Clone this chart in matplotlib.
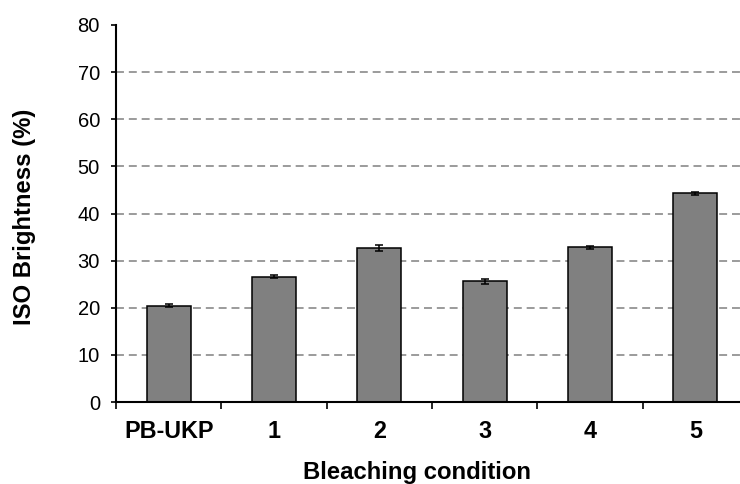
import matplotlib
matplotlib.use("Agg")
import matplotlib.pyplot as plt
import numpy as np

plt.rcParams['font.family'] = ['Liberation Sans', 'DejaVu Sans']

categories = ["PB-UKP", "1", "2", "3", "4", "5"]
brightness = [20.4, 26.6, 32.7, 25.6, 32.8, 44.3]
errors = [0.3, 0.3, 0.6, 0.5, 0.4, 0.3]
yticks = [0, 10, 20, 30, 40, 50, 60, 70, 80]

fig = plt.figure(figsize=(7.4, 4.84), dpi=100)
ax = fig.add_axes([116/740, 1-402/484, (748-116)/740, (402-25)/484])

x = np.arange(len(categories))
ax.hlines([t for t in yticks if 0 < t < 80], -0.5, len(categories)-0.5,
          colors='#808080', linestyles=(0, (5.2, 3.2)), linewidth=1.1, zorder=0)
ax.bar(x, brightness, width=0.415, color='#808080', edgecolor='black', linewidth=1.1, zorder=2)
ax.errorbar(x, brightness, yerr=errors, fmt='none', ecolor='black', elinewidth=1.1,
            capsize=2.6, capthick=1.1, zorder=3)

ax.set_xlim(-0.5, len(categories)-0.5)
ax.set_ylim(0, 80)
ax.set_yticks(yticks)
ax.set_yticklabels([str(t) for t in yticks], fontsize=14.5)

ax.set_xticks(x)
ax.set_xticklabels(categories, fontsize=16.8, fontweight='bold')
ax.set_xticks(np.arange(len(categories)) - 0.5, minor=True)
ax.tick_params(axis='x', which='major', length=0, pad=13)
ax.tick_params(axis='x', which='minor', length=5, width=1.2, direction='out')
ax.tick_params(axis='y', length=3.6, width=1.2, direction='out', pad=8)

for s in ['top', 'right']:
    ax.spines[s].set_visible(False)
for s in ['left', 'bottom']:
    ax.spines[s].set_linewidth(1.5)

ax.set_ylabel("ISO Brightness (%)", fontsize=17.2, fontweight='bold')
ax.yaxis.label.set_va('center')
ax.yaxis.label.set_ha('center')
ax.yaxis.set_label_coords((25-116)/632, (402-217)/377)

ax.set_xlabel("Bleaching condition", fontsize=17.2, fontweight='bold')
ax.xaxis.label.set_va('center')
ax.xaxis.set_label_coords((417-116)/632, (402-473)/377)

fig.savefig("out.png", dpi=100)
